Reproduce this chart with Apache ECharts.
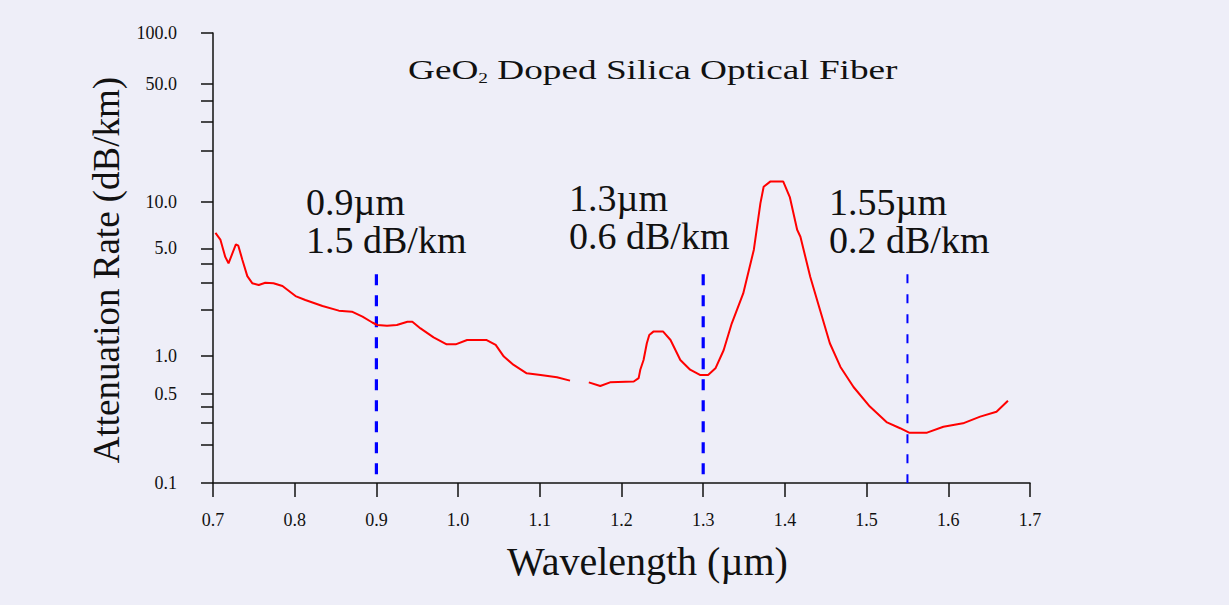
<!DOCTYPE html>
<html>
<head>
<meta charset="utf-8">
<script src="https://cdn.jsdelivr.net/npm/echarts@6/dist/echarts.min.js"></script>
<style>
html,body{margin:0;padding:0;background:#EEEEF8;}
#chart{width:1229px;height:605px;}
</style>
</head>
<body>
<div id="chart"></div>
<script>
// ---- data ----
const wavelength = [0.703,0.709,0.715,0.719,0.728,0.731,0.736,0.742,0.748,0.756,0.764,0.774,0.785,0.801,0.813,0.834,0.854,0.870,0.883,0.895,0.901,0.913,0.925,0.938,0.944,0.954,0.970,0.986,0.997,1.011,1.035,1.046,1.056,1.068,1.084,1.101,1.121,1.137,1.148,1.160,1.174,1.186,1.215,1.221,1.223,1.227,1.231,1.234,1.239,1.251,1.260,1.272,1.284,1.296,1.306,1.315,1.325,1.335,1.349,1.362,1.370,1.374,1.382,1.398,1.406,1.415,1.419,1.431,1.443,1.455,1.468,1.484,1.504,1.525,1.541,1.552,1.574,1.594,1.618,1.639,1.659,1.673];
const attenuation = [6.3,5.7,4.4,4.0,5.3,5.2,4.2,3.3,2.97,2.89,2.99,2.97,2.85,2.45,2.31,2.11,1.97,1.94,1.80,1.65,1.59,1.57,1.59,1.67,1.67,1.51,1.32,1.19,1.19,1.27,1.27,1.18,0.99,0.85,0.73,0.71,0.68,0.64,null,0.62,0.58,0.62,0.63,0.67,0.78,0.93,1.21,1.37,1.44,1.44,1.27,0.93,0.78,0.71,0.71,0.80,1.09,1.63,2.55,4.9,9.8,12.3,13.2,13.2,10.7,6.6,5.95,3.27,1.99,1.21,0.82,0.57,0.40,0.30,0.27,0.249,0.249,0.277,0.295,0.333,0.364,0.445];
const xTickValues = [0.7,0.8,0.9,1.0,1.1,1.2,1.3,1.4,1.5,1.6,1.7];
const yLabelValues = [0.1,0.5,1,5,10,50,100];
const yLabelTexts = ['0.1','0.5','1.0','5.0','10.0','50.0','100.0'];
const yTickValues = [0.1,0.2,0.3,0.4,0.5,1,2,3,4,5,10,20,30,40,50,100];
const markerWavelengths = [0.9,1.3,1.55];
const markerTopValue = 3.4;
const markerTexts = ['0.9µm\n1.5 dB/km','1.3µm\n0.6 dB/km','1.55µm\n0.2 dB/km'];

// ---- axis scale: piecewise-log decades of unequal height as in the original ----
const decadeHeights = [127,154,169]; // 0.1-1, 1-10, 10-100
function scaleY(v){
  const L = Math.log10(v);
  let acc = 0;
  for (let d = 0; d < decadeHeights.length; d++){
    const lo = d - 1;
    if (L <= lo + 1 || d === decadeHeights.length - 1){
      return acc + (L - lo) * decadeHeights[d];
    }
    acc += decadeHeights[d];
  }
}
const yMax = decadeHeights.reduce((a,b)=>a+b,0);

const serif = '"Liberation Serif","DejaVu Serif","Times New Roman",serif';

const curve = wavelength.map((w,i)=> attenuation[i]==null ? [w,'-'] : [w, scaleY(attenuation[i])]);

const markerStyles = [
  {width:3.2, dash:[11,10]},
  {width:3.2, dash:[11,10]},
  {width:2, dash:[9,11]}
];
const markerSeries = markerWavelengths.map((w,i)=>({
  type:'line',
  data:[[w, scaleY(markerTopValue)],[w, scaleY(0.1)]],
  symbol:'none',
  silent:true,
  lineStyle:{color:'#0000FF', width:markerStyles[i].width, type:markerStyles[i].dash},
  z:1
}));

const textPos = [[306,183],[569,179],[829,183]];

const chart = echarts.init(document.getElementById('chart'), null, {renderer:'svg'});
chart.setOption({
  backgroundColor:'#EEEEF8',
  animation:false,
  grid:{left:213, right:199, top:33, bottom:122},
  xAxis:{
    type:'value', min:0.7, max:1.7, interval:0.1,
    name:'Wavelength (µm)', nameLocation:'middle', nameGap:58,
    nameTextStyle:{fontFamily:serif, fontSize:40, color:'#111', padding:[0,0,0,52]},
    axisLine:{show:true, lineStyle:{color:'#111', width:1.5}},
    axisTick:{show:true, length:14, lineStyle:{color:'#111', width:1.5}},
    axisLabel:{fontFamily:serif, fontSize:18, color:'#111', margin:28,
      formatter:(v)=>v.toFixed(1)},
    splitLine:{show:false}
  },
  yAxis:{
    type:'value', min:0, max:yMax,
    name:'Attenuation Rate (dB/km)', nameLocation:'middle', nameGap:88, nameRotate:90,
    nameTextStyle:{fontFamily:serif, fontSize:37, color:'#111', padding:[0,24,0,0]},
    axisLine:{show:true, lineStyle:{color:'#111', width:1.5}},
    axisTick:{show:true, length:12, customValues:yTickValues.map(scaleY), lineStyle:{color:'#111', width:1.5}},
    axisLabel:{fontFamily:serif, fontSize:18, color:'#111', margin:36,
      customValues:yLabelValues.map(scaleY),
      formatter:(v)=>{
        let best=0, bd=Infinity;
        yLabelValues.forEach((lv,i)=>{const d=Math.abs(scaleY(lv)-v); if(d<bd){bd=d;best=i;}});
        return yLabelTexts[best];
      }},
    splitLine:{show:false}
  },
  graphic:[
    {type:'text', x:408, y:55, scaleX:1.38, scaleY:1,
      style:{text:'GeO{sub|2} Doped Silica Optical Fiber', fontFamily:serif, fontSize:27, fill:'#111',
        verticalAlign:'top',
        rich:{sub:{fontFamily:serif, fontSize:14, fill:'#111', padding:[16,0,0,0]}}}},
    ...markerTexts.map((t,i)=>({type:'text', x:textPos[i][0], y:textPos[i][1],
      style:{text:t, fontFamily:serif, fontSize:38, lineHeight:38, fill:'#111', verticalAlign:'top'}}))
  ],
  series:[
    {
      type:'line', data:curve, symbol:'none', connectNulls:false, z:2,
      lineStyle:{color:'#FF0000', width:2}
    },
    ...markerSeries
  ]
});
</script>
</body>
</html>
